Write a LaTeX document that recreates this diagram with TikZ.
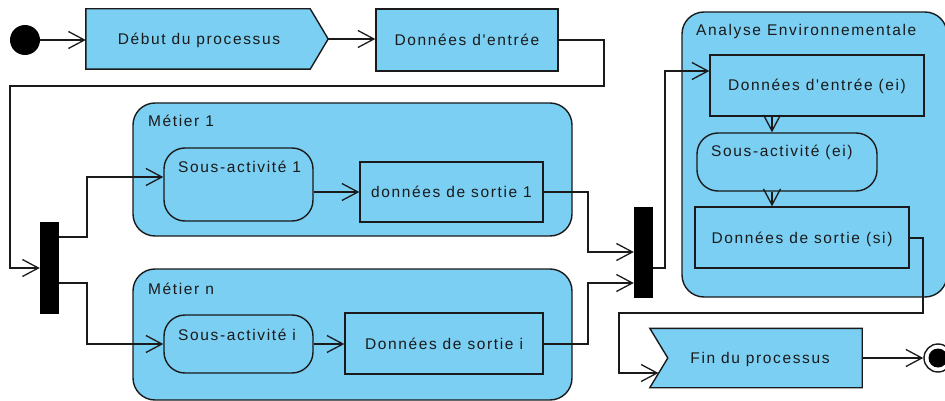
\documentclass[tikz,border=0pt]{standalone}
\usepackage{fontspec}
\setmainfont{Liberation Sans}[LetterSpace=10.5, Ligatures=TeXOff]
\usetikzlibrary{arrows.meta}
\pgfdeclarelayer{bg}
\pgfsetlayers{bg,main}
\definecolor{boxblue}{RGB}{122,207,243}
\definecolor{ink}{RGB}{26,26,26}
\tikzset{
  txt/.style={text=ink, font=\fontsize{15.5}{18}\selectfont},
  box/.style={draw=ink, fill=boxblue, line width=1.4pt, inner sep=0pt, txt, text height=11pt, text depth=0pt},
  rbox/.style={box, rounded corners=21pt},
  cont/.style={draw=ink, fill=boxblue, line width=1.4pt, inner sep=0pt, rounded corners=22pt},
  lbl/.style={inner sep=0pt, txt},
  shp/.style={draw=ink, fill=boxblue, line width=1.4pt, line join=miter},
  fork/.style={fill=black, draw=none, inner sep=0pt},
  conn/.style={draw=ink, line width=1.3pt},
  arr/.style={conn, -{Straight Barb[length=16pt,width=17pt]}}
}
\begin{document}
\begin{tikzpicture}[x=1pt,y=-1pt]
\useasboundingbox (0,0) rectangle (945,401);
\begin{scope}
\clip (0,0) rectangle (945,401);
% containers
\node[cont, minimum width=439pt, minimum height=133pt] (m1) at (352.5,169.5) {};
\node[cont, minimum width=439pt, minimum height=131pt] (mn) at (352.5,334.5) {};
\node[cont, minimum width=265pt, minimum height=285pt] (ae) at (814.5,154.5) {};
\node[lbl, anchor=base west] (m1t) at (148,127) {Métier 1};
\node[lbl, anchor=base west] (mnt) at (148,294) {Métier n};
\node[lbl, anchor=base west] (aet) at (696,36) {Analyse Environnementale};

% top row
\node[circle, fill=black, minimum size=30pt, inner sep=0pt] (start) at (25,40) {};
\node[inner sep=0pt, minimum width=242pt, minimum height=60pt, txt, text height=11pt, text depth=0pt] (debut) at (207,39) {\hspace*{-16pt}Début du processus};
\begin{pgfonlayer}{bg}
\filldraw[shp] (debut.north west) -- ([xshift=-18pt]debut.north east) -- (debut.east) -- ([xshift=-18pt]debut.south east) -- (debut.south west) -- cycle;
\end{pgfonlayer}
\node[box, minimum width=182pt, minimum height=62pt] (dentree) at (467,40) {Données d'entrée};

% forks
\node[fork, minimum width=19pt, minimum height=92pt] (fork1) at (49.5,268) {};
\node[fork, minimum width=19pt, minimum height=91pt] (fork2) at (643.5,252.5) {};

% Metier 1
\node[rbox, minimum width=149pt, minimum height=73pt] (sa1) at (238.5,184.5) {};
\node[lbl, anchor=base west] (sa1t) at (178,172) {Sous-activité 1};
\node[box, minimum width=183pt, minimum height=60pt] (ds1) at (451.5,192) {données de sortie 1};

% Metier n
\node[rbox, minimum width=149pt, minimum height=58pt] (sai) at (238.5,344) {};
\node[lbl, anchor=base west] (sait) at (178,340) {Sous-activité i};
\node[box, minimum width=198pt, minimum height=61pt] (dsi) at (444,343.5) {Données de sortie i};

% Analyse
\node[box, minimum width=214pt, minimum height=61pt] (dei) at (817,85.5) {Données d'entrée (ei)};
\node[rbox, minimum width=180pt, minimum height=58pt] (saei) at (787,162) {};
\node[lbl, anchor=base west] (saeit) at (711,157) {Sous-activité (ei)};
\node[box, minimum width=214pt, minimum height=61pt] (dssi) at (802,237.5) {Données de sortie (si)};

% end
\node[inner sep=0pt, minimum width=212pt, minimum height=59pt, txt, text height=11pt, text depth=0pt] (fin) at (756,358) {\hspace*{8pt}Fin du processus};
\begin{pgfonlayer}{bg}
\filldraw[shp] (fin.north west) -- (fin.north east) -- (fin.south east) -- (fin.south west) -- ([xshift=18pt]fin.west) -- cycle;
\end{pgfonlayer}
\coordinate (finin) at (658.5,373);
\node[circle, draw=ink, fill=white, line width=1.4pt, minimum size=28pt, inner sep=0pt] (final) at (938,358) {};
\node[circle, fill=black, minimum size=19pt, inner sep=0pt] (finaldot) at (final.center) {};

% connectors
\draw[arr] (start) -- (debut.west |- start);
\draw[arr] (debut.east) -- (dentree.west |- debut.east);
\draw[arr] (dentree.east) -- (604,40) -- (604,86) -- (10,86) -- (10,268) -- (fork1.west);
\draw[arr] (fork1.east |- 0,237) -| (87,177) -- (sa1.west |- 0,177);
\draw[arr] (fork1.east |- 0,283) -| (87,344) -- (sai.west |- 0,344);
\draw[arr] (sa1.east |- ds1.west) -- (ds1.west);
\draw[arr] (sai.east |- 0,344) -- (dsi.west |- 0,344);
\draw[arr] (ds1.east) -| (588,252) -- (fork2.west |- 0,252);
\draw[arr] (dsi.east |- 0,344) -| (588,283) -- (fork2.west |- 0,283);
\draw[arr] (fork2.east |- 0,268) -| (665,71) -- (dei.west |- 0,71);
\draw[arr] (dei.south -| 772,0) -- (saei.north -| 772,0);
\draw[arr] (saei.south -| 772,0) -- (dssi.north -| 772,0);
\draw[arr] (dssi.east |- 0,238) -| (923,313) -| (619,373) -- (finin);
\draw[arr] (fin.east) -- (final.west);
\end{scope}
\end{tikzpicture}
\end{document}
